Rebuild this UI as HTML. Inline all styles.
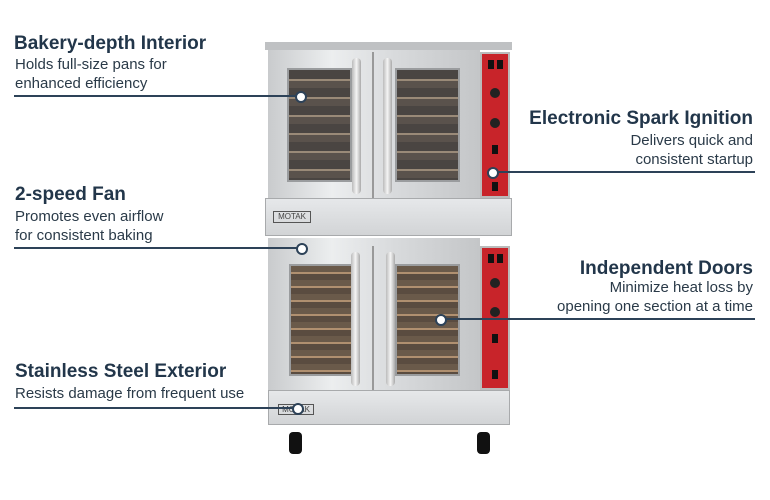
<!DOCTYPE html>
<html><head><meta charset="utf-8"><style>
body{margin:0;width:770px;height:500px;background:#fff;position:relative;overflow:hidden;font-family:"Liberation Sans",sans-serif;color:#22364a}
.a{position:absolute}
.t{font-weight:bold;font-size:19px;white-space:nowrap}
.s{font-size:15px;line-height:19px;white-space:nowrap;color:#2a3a48}
.r{text-align:right}
.ln{position:absolute;height:2px;background:#2d4258}
.dot{position:absolute;width:8px;height:8px;border-radius:50%;background:#fff;border:2px solid #2d4258}
.steel{position:absolute;background:linear-gradient(90deg,#c9cbcd,#eceeef 30%,#d8dadc 60%,#c4c6c8)}
.win{position:absolute;background:repeating-linear-gradient(180deg,#4a4542 0 9px,#9a8a78 9px 11px,#5a524c 11px 18px);border:2px solid #9a9c9e}
.red{position:absolute;background:#c8242a}
.knob{position:absolute;width:10px;height:10px;border-radius:50%;background:#222}
.sw{position:absolute;width:6px;height:9px;background:#111}
.h{position:absolute;width:9px;background:linear-gradient(90deg,#bbb,#f5f5f5,#aaa);border-radius:4px}
.band{position:absolute;background:linear-gradient(180deg,#e6e8ea,#d2d4d6);border:1px solid #a8aaac}
.whl{position:absolute;width:13px;height:22px;background:#111;border-radius:4px}
</style></head><body>
<div class="steel" style="left:265px;top:42px;width:247px;height:8px;background:#bfc1c3"></div>
<div class="steel" style="left:268px;top:50px;width:212px;height:148px"></div>
<div class="a" style="left:372px;top:52px;width:2px;height:146px;background:#999"></div>
<div class="red" style="left:480px;top:52px;width:30px;height:146px;border:2px solid #bbb;box-sizing:border-box"></div>
<div class="win" style="left:287px;top:68px;width:61px;height:110px"></div>
<div class="win" style="left:395px;top:68px;width:61px;height:110px"></div>
<div class="h" style="left:352px;top:58px;height:136px"></div>
<div class="h" style="left:383px;top:58px;height:136px"></div>
<div class="sw" style="left:488px;top:60px"></div><div class="sw" style="left:497px;top:60px"></div>
<div class="knob" style="left:490px;top:88px"></div><div class="knob" style="left:490px;top:118px"></div>
<div class="sw" style="left:492px;top:145px"></div><div class="sw" style="left:492px;top:182px"></div>
<div class="band" style="left:265px;top:198px;width:245px;height:36px"></div>
<div class="a" style="left:273px;top:211px;width:36px;height:10px;border:1px solid #555;font-size:8px;line-height:10px;color:#444;text-align:center">MOTAK</div>
<div class="steel" style="left:268px;top:238px;width:212px;height:152px"></div>
<div class="a" style="left:372px;top:246px;width:2px;height:144px;background:#999"></div>
<div class="red" style="left:480px;top:246px;width:30px;height:144px;border:2px solid #bbb;box-sizing:border-box"></div>
<div class="win" style="left:289px;top:264px;width:61px;height:108px;background:repeating-linear-gradient(180deg,#6a5a4a 0 6px,#b09070 6px 8px,#5a4c40 8px 14px)"></div>
<div class="win" style="left:395px;top:264px;width:61px;height:108px;background:repeating-linear-gradient(180deg,#6a5a4a 0 6px,#b09070 6px 8px,#5a4c40 8px 14px)"></div>
<div class="h" style="left:351px;top:252px;height:134px"></div>
<div class="h" style="left:386px;top:252px;height:134px"></div>
<div class="sw" style="left:488px;top:254px"></div><div class="sw" style="left:497px;top:254px"></div>
<div class="knob" style="left:490px;top:278px"></div><div class="knob" style="left:490px;top:307px"></div>
<div class="sw" style="left:492px;top:334px"></div><div class="sw" style="left:492px;top:370px"></div>
<div class="band" style="left:268px;top:390px;width:240px;height:33px"></div>
<div class="a" style="left:278px;top:404px;width:34px;height:9px;border:1px solid #555;font-size:8px;line-height:9px;color:#444;text-align:center">MOTAK</div>
<div class="whl" style="left:289px;top:432px"></div>
<div class="whl" style="left:477px;top:432px"></div>
<div class="a t" style="left:14px;top:33px">Bakery-depth Interior</div>
<div class="a s" style="left:15px;top:55px">Holds full-size pans for<br>enhanced efficiency</div>
<div class="ln" style="left:14px;top:95px;width:286px"></div>
<div class="dot" style="left:295px;top:91px"></div>
<div class="a t" style="left:15px;top:184px">2-speed Fan</div>
<div class="a s" style="left:15px;top:207px">Promotes even airflow<br>for consistent baking</div>
<div class="ln" style="left:14px;top:247px;width:287px"></div>
<div class="dot" style="left:296px;top:243px"></div>
<div class="a t" style="left:15px;top:361px">Stainless Steel Exterior</div>
<div class="a s" style="left:15px;top:384px">Resists damage from frequent use</div>
<div class="ln" style="left:14px;top:407px;width:283px"></div>
<div class="dot" style="left:292px;top:403px"></div>
<div class="a t r" style="right:17px;top:108px">Electronic Spark Ignition</div>
<div class="a s r" style="right:17px;top:131px">Delivers quick and<br>consistent startup</div>
<div class="ln" style="left:492px;top:171px;width:263px"></div>
<div class="dot" style="left:487px;top:167px"></div>
<div class="a t r" style="right:17px;top:258px">Independent Doors</div>
<div class="a s r" style="right:17px;top:278px">Minimize heat loss by<br>opening one section at a time</div>
<div class="ln" style="left:440px;top:318px;width:315px"></div>
<div class="dot" style="left:435px;top:314px"></div>
</body></html>
